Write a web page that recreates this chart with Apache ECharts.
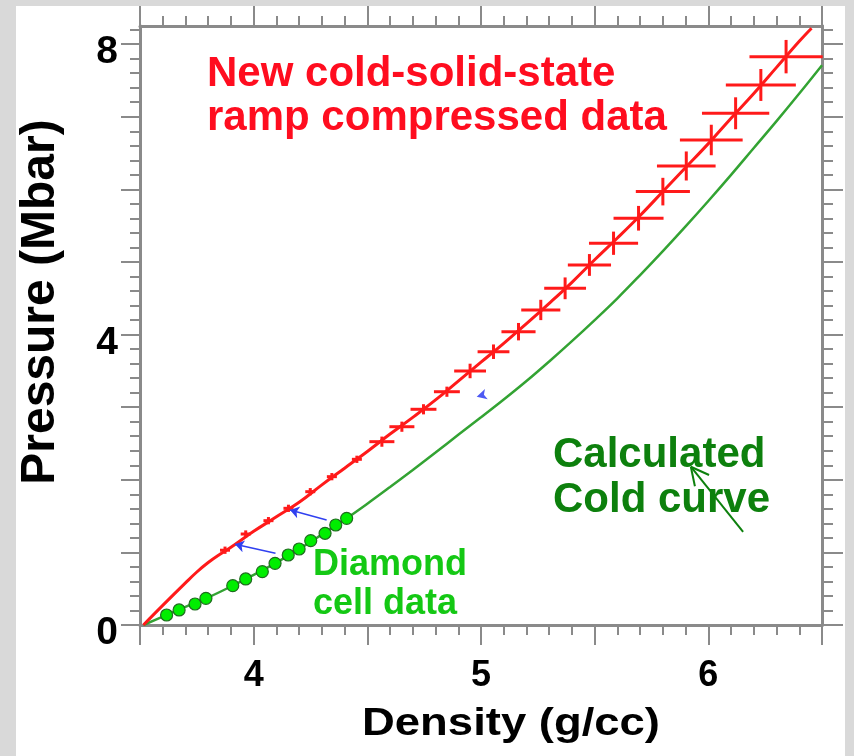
<!DOCTYPE html>
<html>
<head>
<meta charset="utf-8">
<title>Cold curve</title>
<script src="https://cdn.jsdelivr.net/npm/echarts@6/dist/echarts.min.js"></script>
<style>
  html, body { margin: 0; padding: 0; background: #d9d9d9; }
  #chart { width: 854px; height: 756px; }
</style>
</head>
<body>
<div id="chart"></div>
<script>
// density in g/cc, pressure in Mbar

// calculated cold curve (green)
const coldDensity = [3.515, 3.6, 3.7, 3.8, 3.9, 4.0, 4.1, 4.2, 4.3, 4.4, 4.5, 4.6, 4.7, 4.8, 4.9, 5.0,
  5.1, 5.2, 5.3, 5.4, 5.5, 5.6, 5.7, 5.8, 5.9, 6.0, 6.1, 6.2, 6.3, 6.4, 6.5]
const coldPressure = [0, 0.115, 0.25, 0.38, 0.53, 0.69, 0.86, 1.045, 1.245, 1.45, 1.67, 1.90, 2.135, 2.375, 2.62, 2.86,
  3.105, 3.36, 3.63, 3.91, 4.20, 4.50, 4.82, 5.15, 5.49, 5.84, 6.20, 6.57, 6.94, 7.32, 7.71]

// ramp compressed curve (red line)
const rampDensity = [3.515, 3.6, 3.7, 3.75, 3.8, 3.85, 3.9, 4.0, 4.1, 4.2, 4.3, 4.4, 4.5, 4.6, 4.7, 4.8, 4.9, 5.0,
  5.1, 5.2, 5.3, 5.4, 5.5, 5.6, 5.7, 5.8, 5.9, 6.0, 6.1, 6.2, 6.3, 6.4, 6.454]
const rampPressure = [0, 0.27, 0.58, 0.73, 0.86, 0.97, 1.07, 1.29, 1.49, 1.69, 1.93, 2.16, 2.39, 2.63, 2.86, 3.10, 3.36, 3.62,
  3.88, 4.15, 4.43, 4.72, 5.03, 5.33, 5.64, 5.97, 6.30, 6.63, 6.98, 7.32, 7.68, 8.04, 8.22]

// ramp compressed data points with error bars
const pointDensity = [3.874, 3.965, 4.065, 4.153, 4.249, 4.344, 4.454, 4.564, 4.652, 4.747, 4.850, 4.952, 5.055,
  5.165, 5.263, 5.370, 5.477, 5.583, 5.693, 5.800, 5.903, 6.013, 6.120, 6.231, 6.342]
const pointPressure = [1.03, 1.253, 1.437, 1.607, 1.836, 2.043, 2.282, 2.525, 2.731, 2.971, 3.213, 3.499, 3.764,
  4.040, 4.339, 4.637, 4.959, 5.258, 5.602, 5.969, 6.322, 6.680, 7.048, 7.438, 7.828]
const pointDensityErr = [0.022, 0.022, 0.022, 0.022, 0.022, 0.022, 0.022, 0.055, 0.055, 0.057, 0.057, 0.07, 0.07,
  0.075, 0.086, 0.092, 0.095, 0.108, 0.11, 0.119, 0.129, 0.138, 0.148, 0.154, 0.161]
const pointPressureErr = [0.05, 0.05, 0.05, 0.05, 0.05, 0.05, 0.05, 0.07, 0.07, 0.07, 0.07, 0.10, 0.10,
  0.12, 0.14, 0.15, 0.15, 0.16, 0.17, 0.19, 0.20, 0.21, 0.22, 0.22, 0.23]

// diamond anvil cell data
const dacDensity = [3.617, 3.672, 3.742, 3.790, 3.908, 3.965, 4.038, 4.094, 4.152, 4.200, 4.251, 4.314, 4.361, 4.409]
const dacPressure = [0.138, 0.207, 0.289, 0.367, 0.542, 0.634, 0.735, 0.849, 0.964, 1.047, 1.162, 1.263, 1.377, 1.469]

// blue shift arrows: [from, to]
const shiftArrows = [
  [[4.096, 0.988], [3.918, 1.111]],
  [[4.321, 1.446], [4.160, 1.584]]
]
const strayHead = [4.981, 3.145]
// green label arrow: tail, tip
const labelArrow = [6.153, 1.281, 5.923, 2.18]

// axes
const xTickLabels = [4, 5, 6]
const yTickLabels = [0, 4, 8]
const yMajorTicks = [0, 1, 2, 3, 4, 5, 6, 7, 8]
const yMinorTicks = []
for (let i = 0; i <= 41; i++) yMinorTicks.push(Math.round(i * 0.2 * 10) / 10)

const RED = '#ff1a1a'
const AXIS = '#8a8a8a'
const FONT = '"Liberation Sans", Arial, sans-serif'

const pair = (xs, ys) => xs.map((x, i) => [x, ys[i]])

const chart = echarts.init(document.getElementById('chart'))

function xAxisDef (position, showLabel) {
  return {
    type: 'value',
    position: position,
    min: 3.5,
    max: 6.5,
    interval: 0.5,
    axisLine: { show: true, onZero: false, lineStyle: { color: AXIS, width: 3 } },
    axisTick: { show: true, inside: false, length: 20, lineStyle: { color: AXIS, width: 2 } },
    minorTick: { show: true, splitNumber: 5, length: 10, lineStyle: { color: AXIS, width: 2 } },
    splitLine: { show: false },
    axisLabel: {
      show: showLabel,
      customValues: xTickLabels,
      margin: 33,
      color: '#000',
      fontFamily: FONT,
      fontWeight: 'bold',
      fontSize: 36
    }
  }
}

function yAxisDef (position, ticks, len, showLabel) {
  return {
    type: 'value',
    position: position,
    min: 0,
    max: 8.25,
    axisLine: { show: true, onZero: false, lineStyle: { color: AXIS, width: 3 } },
    axisTick: { show: true, inside: false, customValues: ticks, length: len, lineStyle: { color: AXIS, width: 2 } },
    splitLine: { show: false },
    axisLabel: {
      show: showLabel,
      customValues: yTickLabels,
      margin: 22,
      verticalAlign: 'top',
      lineHeight: 17,
      color: '#000',
      fontFamily: FONT,
      fontWeight: 'bold',
      fontSize: 39
    }
  }
}

chart.setOption({
  animation: false,
  backgroundColor: '#d9d9d9',
  grid: { left: 140, right: 32, top: 26, bottom: 131 },
  xAxis: [xAxisDef('bottom', true), xAxisDef('top', false)],
  yAxis: [
    yAxisDef('left', yMajorTicks, 19, true),
    yAxisDef('left', yMinorTicks, 10, false),
    yAxisDef('right', yMajorTicks, 21, false),
    yAxisDef('right', yMinorTicks, 11, false)
  ],
  graphic: [
    { type: 'rect', z: -10, silent: true, shape: { x: 16, y: 6, width: 829, height: 750 }, style: { fill: '#fff' } },
    {
      type: 'text', x: 41, y: 302, rotation: Math.PI / 2,
      style: { text: 'Pressure (Mbar)', font: 'bold 48px ' + FONT, fill: '#000', align: 'center', verticalAlign: 'middle' }
    },
    {
      type: 'text', x: 511, y: 724, scaleX: 1.165,
      style: { text: 'Density (g/cc)', font: 'bold 39px ' + FONT, fill: '#000', align: 'center', verticalAlign: 'middle' }
    },
    {
      type: 'text', x: 207, y: 74,
      style: { text: 'New cold-solid-state', font: 'bold 42px ' + FONT, fill: '#ff0d1f', verticalAlign: 'middle' }
    },
    {
      type: 'text', x: 207, y: 118,
      style: { text: 'ramp compressed data', font: 'bold 42px ' + FONT, fill: '#ff0d1f', verticalAlign: 'middle' }
    },
    {
      type: 'text', x: 553, y: 455,
      style: { text: 'Calculated', font: 'bold 42px ' + FONT, fill: '#0d800d', verticalAlign: 'middle' }
    },
    {
      type: 'text', x: 553, y: 500,
      style: { text: 'Cold curve', font: 'bold 42px ' + FONT, fill: '#0d800d', verticalAlign: 'middle' }
    },
    {
      type: 'text', x: 313, y: 565,
      style: { text: 'Diamond', font: 'bold 36px ' + FONT, fill: '#14c814', verticalAlign: 'middle' }
    },
    {
      type: 'text', x: 313, y: 604,
      style: { text: 'cell data', font: 'bold 36px ' + FONT, fill: '#14c814', verticalAlign: 'middle' }
    }
  ],
  series: [
    {
      name: 'Calculated cold curve',
      type: 'line',
      data: pair(coldDensity, coldPressure),
      smooth: 0.4,
      showSymbol: false,
      lineStyle: { color: '#33a333', width: 2.5 },
      z: 2
    },
    {
      name: 'Ramp compressed',
      type: 'line',
      data: pair(rampDensity, rampPressure),
      smooth: 0.4,
      showSymbol: false,
      lineStyle: { color: RED, width: 3 },
      z: 3
    },
    {
      name: 'Ramp data',
      type: 'custom',
      data: pointDensity.map((d, i) => [d, pointPressure[i], pointDensityErr[i], pointPressureErr[i]]),
      renderItem: function (params, api) {
        const x = api.value(0)
        const y = api.value(1)
        const l = api.coord([x - api.value(2), y])
        const r = api.coord([x + api.value(2), y])
        const b = api.coord([x, y - api.value(3)])
        const t = api.coord([x, y + api.value(3)])
        const style = { stroke: RED, lineWidth: 3 }
        return {
          type: 'group',
          children: [
            { type: 'line', shape: { x1: l[0], y1: l[1], x2: r[0], y2: r[1] }, style: style },
            { type: 'line', shape: { x1: b[0], y1: b[1], x2: t[0], y2: t[1] }, style: style }
          ]
        }
      },
      z: 4
    },
    {
      name: 'Diamond cell data',
      type: 'scatter',
      data: pair(dacDensity, dacPressure),
      symbol: 'circle',
      symbolSize: 12,
      itemStyle: { color: '#00ee00', borderColor: '#1f6b1f', borderWidth: 1.2, opacity: 1 },
      z: 5
    },
    {
      name: 'Shift',
      type: 'lines',
      coordinateSystem: 'cartesian2d',
      data: shiftArrows.map(a => ({ coords: a })),
      symbol: ['none', 'arrow'],
      symbolSize: 9,
      lineStyle: { color: '#3040f0', width: 1.5, opacity: 1 },
      z: 6
    },
    {
      name: 'Stray head',
      type: 'scatter',
      data: [strayHead],
      symbol: 'arrow',
      symbolSize: [8, 10],
      symbolRotate: 105,
      itemStyle: { color: '#2030f0' },
      z: 6
    },
    {
      name: 'Label arrow',
      type: 'custom',
      data: [labelArrow],
      renderItem: function (params, api) {
        const tail = api.coord([api.value(0), api.value(1)])
        const tip = api.coord([api.value(2), api.value(3)])
        const ang = Math.atan2(tail[1] - tip[1], tail[0] - tip[0])
        const len = 20
        const spread = 0.47
        const a1 = [tip[0] + len * Math.cos(ang + spread), tip[1] + len * Math.sin(ang + spread)]
        const a2 = [tip[0] + len * Math.cos(ang - spread), tip[1] + len * Math.sin(ang - spread)]
        const style = { stroke: '#0d800d', lineWidth: 2 }
        return {
          type: 'group',
          children: [
            { type: 'line', shape: { x1: tail[0], y1: tail[1], x2: tip[0], y2: tip[1] }, style: style },
            { type: 'line', shape: { x1: tip[0], y1: tip[1], x2: a1[0], y2: a1[1] }, style: style },
            { type: 'line', shape: { x1: tip[0], y1: tip[1], x2: a2[0], y2: a2[1] }, style: style }
          ]
        }
      },
      z: 7
    }
  ]
})

window.addEventListener('resize', () => chart.resize())
</script>
</body>
</html>
